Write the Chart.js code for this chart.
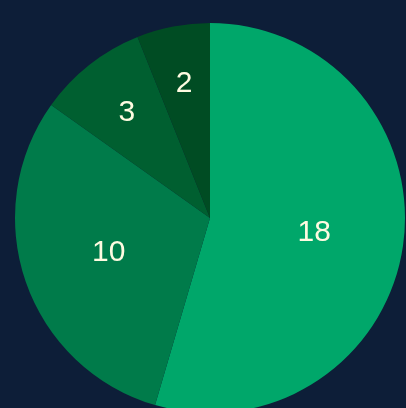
<!DOCTYPE html>
<html>
<head>
<meta charset="utf-8">
<script src="https://cdn.jsdelivr.net/npm/chart.js@4/dist/chart.umd.min.js"></script>
<style>
  html, body { margin: 0; padding: 0; width: 406px; height: 408px; overflow: hidden; background: #0d1e38; }
  #wrap { position: absolute; left: 0; top: 0; width: 420px; height: 436px; }
</style>
</head>
<body>
<div id="wrap"><canvas id="pieChart"></canvas></div>
<script>
// Slice data, clockwise from 12 o'clock
const labels = ['A', 'B', 'C', 'D'];
const values = [18, 10, 3, 2];
const sliceColors = ['#00a76a', '#007b4a', '#005f30', '#004c23'];
// How far out from the centre each value label sits (fraction of radius)
const labelRadius = [0.54, 0.55, 0.69, 0.70];

// Draws the value of each slice inside it
const valueLabels = {
    id: 'valueLabels',
    afterDatasetsDraw(chart) {
        const ctx = chart.ctx;
        const meta = chart.getDatasetMeta(0);
        ctx.save();
        ctx.font = '30px "Liberation Sans", Arial, sans-serif';
        ctx.fillStyle = '#fffbe1';
        ctx.textAlign = 'center';
        ctx.textBaseline = 'middle';
        meta.data.forEach((arc, i) => {
            const p = arc.getProps(['x', 'y', 'startAngle', 'endAngle', 'outerRadius'], true);
            const mid = (p.startAngle + p.endAngle) / 2;
            const r = p.outerRadius * labelRadius[i];
            ctx.fillText(String(values[i]), p.x + Math.cos(mid) * r, p.y + Math.sin(mid) * r);
        });
        ctx.restore();
    }
};

new Chart(document.getElementById('pieChart').getContext('2d'), {
    type: 'pie',
    data: {
        labels: labels,
        datasets: [{
            data: values,
            backgroundColor: sliceColors,
            borderWidth: 0
        }]
    },
    options: {
        responsive: true,
        maintainAspectRatio: false,
        animation: false,
        layout: { padding: { left: 15, right: 15, top: 23, bottom: 23 } },
        plugins: {
            legend: { display: false },
            tooltip: { enabled: false }
        }
    },
    plugins: [valueLabels]
});
</script>
</body>
</html>
